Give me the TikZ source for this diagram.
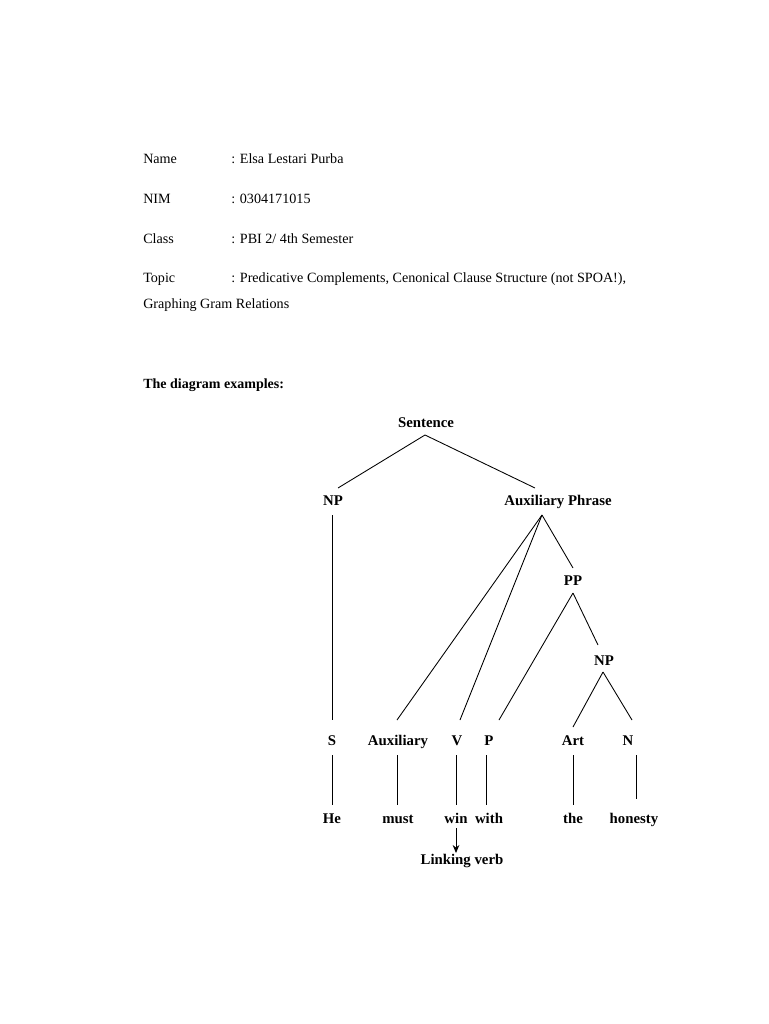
\documentclass[tikz,border=0pt]{standalone}
\usepackage{fontspec}
\setmainfont{Liberation Serif}
\usetikzlibrary{calc,arrows.meta}
\begin{document}
\begin{tikzpicture}[x=0.75pt,y=-0.75pt,
  hdr/.style={anchor=base west,inner sep=0,font=\fontsize{10.6}{13}\selectfont},
  lab/.style={inner xsep=0,inner ysep=0,text height=7.4pt,text depth=0pt,font=\fontsize{11.1}{13}\selectfont\bfseries},
  edge/.style={line width=0.65pt},
  arr/.style={line width=0.65pt,-{Stealth[length=6pt,width=5pt]}}]
\useasboundingbox (0,0) rectangle (768,1024);
\fill[white] (0,0) rectangle (768,1024);
% header
\node[hdr] (k1) at (143,163) {Name};
\node[hdr] (v1) at (231,163) {: Elsa Lestari Purba};
\node[hdr] (k2) at (143,203) {NIM};
\node[hdr] (v2) at (231,203) {: 0304171015};
\node[hdr] (k3) at (143,243) {Class};
\node[hdr] (v3) at (231,243) {: PBI 2/ 4th Semester};
\node[hdr] (k4) at (143,282) {Topic};
\node[hdr] (v4) at (231,282) {: Predicative Complements, Cenonical Clause Structure (not SPOA!),};
\node[hdr] (v5) at (143,308) {Graphing Gram Relations};
\node[hdr,font=\fontsize{10.5}{13}\selectfont\bfseries] (title) at (143,388) {The diagram examples:};
% tree nodes
\node[lab] (sent) at (426,423) {Sentence};
\node[lab] (np) at (333,501) {NP};
\node[lab] (auxp) at (558,501) {Auxiliary Phrase};
\node[lab] (pp) at (573,581) {PP};
\node[lab] (np2) at (604,661) {NP};
\node[lab] (s) at (332,741) {S};
\node[lab] (aux) at (398,741) {Auxiliary};
\node[lab] (v) at (457,741) {V};
\node[lab] (p) at (489,741) {P};
\node[lab] (art) at (573,741) {Art};
\node[lab] (n) at (628,741) {N};
\node[lab] (he) at (332,819) {He};
\node[lab] (must) at (398,819) {must};
\node[lab] (win) at (456,819) {win};
\node[lab] (with) at (489,819) {with};
\node[lab] (the) at (573,819) {the};
\node[lab] (hon) at (634,819) {honesty};
\node[lab] (lv) at (462,860) {Linking verb};
% edges
\draw[edge] ($(sent.center)+(-1,12)$) -- ($(np.center)+(5,-13)$);
\draw[edge] ($(sent.center)+(-1,12)$) -- ($(auxp.center)+(-23,-13)$);
\draw[edge] ($(np.center)+(-1,14)$) -- ($(s.center)+(0,-21)$);
\draw[edge] ($(auxp.center)+(-16,14)$) -- ($(pp.center)+(0,-13)$);
\draw[edge] ($(auxp.center)+(-16,14)$) -- ($(aux.center)+(-1,-21)$);
\draw[edge] ($(auxp.center)+(-16,14)$) -- ($(v.center)+(3,-21)$);
\draw[edge] ($(pp.center)+(0,12)$) -- ($(p.center)+(10,-21)$);
\draw[edge] ($(pp.center)+(0,12)$) -- ($(np2.center)+(-6,-16)$);
\draw[edge] ($(np2.center)+(-1,11)$) -- ($(art.center)+(0,-14)$);
\draw[edge] ($(np2.center)+(-1,11)$) -- ($(n.center)+(4,-21)$);
\draw[edge] ($(s.center)+(0,14)$) -- ($(he.center)+(0,-14)$);
\draw[edge] ($(aux.center)+(-1,14)$) -- ($(must.center)+(-1,-14)$);
\draw[edge] ($(v.center)+(-1,14)$) -- ($(win.center)+(0,-14)$);
\draw[edge] ($(p.center)+(-3,14)$) -- ($(with.center)+(-3,-14)$);
\draw[edge] ($(art.center)+(0,14)$) -- ($(the.center)+(0,-14)$);
\draw[edge] ($(n.center)+(8,14)$) -- ($(hon.center)+(2,-20)$);
\draw[arr] ($(win.center)+(0,9)$) -- ($(lv.center)+(-6,-7)$);
\end{tikzpicture}
\end{document}
